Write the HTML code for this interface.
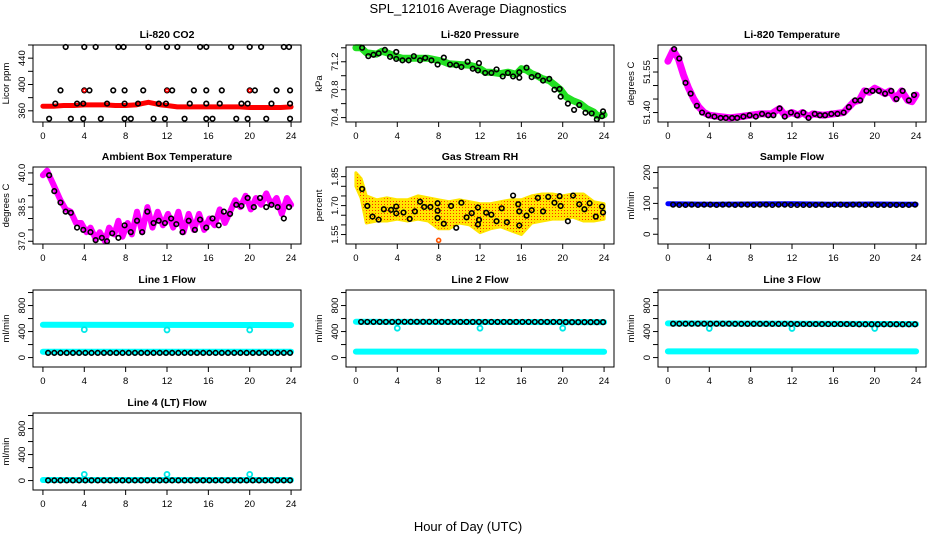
<!DOCTYPE html>
<html><head><meta charset="utf-8"><style>
html,body{margin:0;padding:0;background:#fff;}
svg{display:block;font-family:"Liberation Sans",sans-serif;}
</style></head><body>
<svg id="chart" width="936" height="540" viewBox="0 0 936 540" xmlns="http://www.w3.org/2000/svg">
<defs>
<pattern id="rhpat" width="3" height="3" patternUnits="userSpaceOnUse"><rect x="0" y="0" width="1" height="1" fill="#ff2a00"/></pattern>
</defs>
<text x="468" y="13" text-anchor="middle" font-size="13">SPL_121016  Average Diagnostics</text>
<text x="468" y="531" text-anchor="middle" font-size="13">Hour of Day (UTC)</text>
</svg>
<script>
// ---------- data ----------
const xTicks = [0,4,8,12,16,20,24];
// CO2
const co2LineH = [0,1,2,3,4,5,6,7,8,9,9.6,10.2,10.8,11.4,12,13,14,15,16,17,18,19,20,21,22,23,24];
const co2LineV = [367,367,368,368,369,369,369,368,368,369,371,373,371,369,368,366,366,366,366,366,366,366,365,365,365,365,366];
const co2TopH = [2.2,4,5.1,7.3,7.8,10.2,12,13,15.2,15.8,18.2,20,21.1,23.3,23.8];
const co2TopV = [457,457,457,457,457,457,457,457,457,457,457,457,457,457,457];
const co2MidH = [1.7,4,4.5,6.8,7.9,9.7,12,12.5,14.6,15.8,17.3,20,20.5,22.6,23.9];
const co2MidV = [391,391,391,391,391,391,391,391,391,391,391,391,391,391,391];
const co2LowH = [1.2,3.3,3.9,6.2,7.9,9.2,11.2,11.9,14.2,15.8,17.1,19.2,19.8,22.1,23.9];
const co2LowV = [371,371,371,371,371,371,371,371,371,371,371,371,371,371,371];
const co2BotH = [0.6,2.7,3.9,5.6,7.9,8.5,10.7,11.8,13.7,15.8,16.4,18.7,19.8,21.6,23.9];
const co2BotV = [348,348,348,348,348,348,348,348,348,348,348,348,348,348,348];
const co2RedH = [4,12,20];
const co2RedV = [391,391,391];
// Pressure
const prLineH = [0,0.5,1,2,2.5,3,3.5,4,4.5,6,7,8,8.5,9,10,11,11.5,12,12.5,13,14,14.7,15.5,16,16.5,17,17.5,18,18.7,19.3,19.8,20.3,21,21.7,22.3,23,23.4,24];
const prLineV = [71.40,71.40,71.33,71.31,71.35,71.33,71.30,71.27,71.25,71.25,71.25,71.22,71.20,71.17,71.16,71.15,71.13,71.10,71.05,71.05,71.03,71.05,71.02,71.10,71.08,71.03,71.00,70.96,70.93,70.86,70.80,70.70,70.64,70.60,70.53,70.48,70.42,70.44];
const prPtH = [0.6,1.2,1.7,2.2,2.8,3.3,3.9,3.9,4.5,5.1,5.6,6.2,6.7,7.3,7.9,8.5,9.1,9.7,10.2,10.8,11.3,11.8,11.9,12.5,13.1,13.6,14.2,14.7,15.2,15.8,15.8,16.5,17,17.6,18.1,18.7,19.2,19.7,19.8,20.5,21.1,21.6,22.2,22.8,23.3,23.8,23.9];
const prPtV = [71.40,71.28,71.30,71.32,71.37,71.27,71.34,71.24,71.22,71.22,71.28,71.22,71.255,71.22,71.16,71.26,71.16,71.15,71.125,71.20,71.10,71.076,71.18,71.04,71.04,71.09,70.99,71.04,70.99,70.97,71.05,71.115,70.98,71.00,70.93,70.955,70.80,70.81,70.70,70.60,70.51,70.58,70.47,70.46,70.376,70.42,70.49];
// Li-820 temperature
const ltLineH = [0,0.5,1,1.5,2,2.5,3,3.5,4,5,6,7,8,9,10,10.8,11.3,12,12.6,13,13.6,14,15,16,17,17.5,18,18.5,19,19.5,20,20.5,21,21.5,22,22.6,23.2,23.6,24];
const ltLineV = [51.59,51.63,51.60,51.54,51.49,51.45,51.42,51.40,51.39,51.385,51.38,51.385,51.39,51.395,51.395,51.415,51.39,51.40,51.39,51.40,51.385,51.395,51.39,51.395,51.40,51.42,51.44,51.445,51.48,51.475,51.49,51.48,51.47,51.48,51.45,51.48,51.445,51.44,51.465];
const ltPtH = [0.6,1.1,1.7,2.2,2.8,3.3,3.9,4.5,5.1,5.6,6.2,6.7,7.3,7.9,8.5,9.1,9.7,10.2,10.8,11.3,11.9,12.5,13.1,13.6,14.2,14.7,15.2,15.8,16.4,17,17.5,18.1,18.6,19.2,19.8,20.4,21,21.6,22.1,22.7,23.3,23.8];
const ltPtV = [51.635,51.60,51.51,51.47,51.425,51.40,51.39,51.385,51.38,51.38,51.38,51.38,51.385,51.39,51.385,51.395,51.39,51.39,51.415,51.385,51.40,51.39,51.40,51.38,51.395,51.39,51.39,51.395,51.395,51.40,51.42,51.445,51.445,51.48,51.48,51.48,51.47,51.48,51.45,51.48,51.445,51.465];
// Ambient box temperature
const abLineH = [0,0.4,0.6,1,1.3,1.7,2.2,2.7,3.2,3.7,4.2,4.6,5.1,5.5,6,6.4,6.9,7.3,7.7,8.2,8.6,9.1,9.6,10.1,10.6,11.1,11.6,12.1,12.6,13.1,13.6,14.1,14.6,15.1,15.6,16.1,16.6,17.1,17.6,18.1,18.6,19.1,19.6,20.1,20.6,21.1,21.6,22.1,22.6,23.1,23.6,24];
const abLineV = [39.9,40.1,39.9,39.5,39.2,38.8,38.4,38.3,37.8,37.8,37.4,37.6,37.1,37.4,37.0,37.6,37.3,37.9,37.2,37.8,37.3,38.3,37.4,38.5,37.6,38.3,37.7,38.2,37.6,38.3,37.4,38.2,37.5,38.2,37.5,38.0,37.7,38.4,37.8,38.3,38.8,38.5,39.0,38.4,38.9,38.6,39.1,38.6,38.9,38.2,38.9,38.6];
const abPtH = [0.6,1.1,1.7,2.2,2.7,3.3,3.9,4.6,5.1,5.7,6.2,6.7,7.3,7.9,8.5,9.1,9.6,10.1,10.7,11.2,11.8,12.4,12.9,13.5,14.1,14.7,15.2,15.8,16.4,17,17.5,18.1,18.7,19.2,19.8,20.4,21,21.6,22.1,22.7,23.3,23.8];
const abPtV = [39.9,39.2,38.7,38.3,38.25,37.6,37.5,37.4,37.05,37.15,37.0,37.35,37.15,37.7,37.4,37.9,37.4,38.3,37.8,37.9,37.8,38.0,37.75,37.4,37.9,37.5,37.95,37.6,38.0,37.7,38.3,38.2,38.6,38.55,38.9,38.5,38.9,38.5,38.6,38.5,38.0,38.5];
// Gas stream RH
const rhBandH = [0,0.5,1,2,3,4,5,6,7,8,9,10,11,12,13,14,15,16,17,18,19,20,21,22,23,24];
const rhUpper = [1.87,1.84,1.75,1.73,1.74,1.73,1.73,1.75,1.74,1.73,1.72,1.73,1.72,1.71,1.71,1.72,1.73,1.73,1.75,1.76,1.76,1.75,1.76,1.76,1.72,1.71];
const rhLower = [1.80,1.74,1.61,1.62,1.62,1.63,1.62,1.63,1.62,1.58,1.58,1.61,1.60,1.56,1.58,1.59,1.57,1.55,1.61,1.62,1.63,1.63,1.64,1.62,1.62,1.63];
const rhPtH = [0.6,1.1,1.6,2.2,2.7,3.4,3.9,3.9,4.6,5.2,5.7,6.2,6.6,7.2,7.9,7.9,7.9,8.5,9.2,9.7,10.2,10.7,11.2,11.8,11.9,11.8,12.6,13.1,13.6,14.1,14.6,15.2,15.7,15.8,15.8,16.5,17.0,17.6,18.1,18.6,19.2,19.7,19.8,20.5,21,21.6,22.1,22.6,23.2,23.8,23.9];
const rhPtV = [1.786,1.698,1.643,1.627,1.681,1.678,1.695,1.66,1.664,1.631,1.67,1.72,1.693,1.693,1.712,1.673,1.636,1.606,1.698,1.585,1.715,1.639,1.661,1.69,1.626,1.602,1.663,1.653,1.619,1.686,1.614,1.752,1.707,1.67,1.597,1.648,1.676,1.74,1.67,1.745,1.715,1.749,1.698,1.619,1.752,1.707,1.681,1.712,1.643,1.695,1.664];
const rhOutH = [8];
const rhOutV = [1.52];
// Flows (shared sample hours)
const fh = [0.5,1.1,1.7,2.3,2.9,3.5,4.1,4.7,5.3,5.9,6.5,7.1,7.7,8.3,8.9,9.5,10.1,10.7,11.3,11.9,12.5,13.1,13.7,14.3,14.9,15.5,16.1,16.7,17.3,17.9,18.5,19.1,19.7,20.3,20.9,21.5,22.1,22.7,23.3,23.9];
const sfBlueH = [0,4,8,12,16,20,24];
const sfBlueV = [99,97,98,99,97,98,97];
const sfBlack = [96,95,95,96,95,96,96,95,96,96,95,96,96,95,96,96,95,96,96,95,95,95,95,95,96,95,96,96,95,96,96,95,96,95,95,95,95,95,95,96];
const dipH = [4,12,20];
const l1Cyan = {h:[0,24], v:[505,500]};
const l1CyanLow = {h:[0,24], v:[88,88]};
const l1Dip = [430,425,425];
const l1Black = [72,72,72,72,72,72,72,72,72,72,72,72,72,72,72,72,72,72,72,72,72,72,72,72,72,72,72,72,72,72,72,72,72,72,72,72,72,72,72,72];
const l2Cyan = {h:[0,24], v:[550,545]};
const l2CyanLow = {h:[0,24], v:[92,90]};
const l2Dip = [452,452,452];
const l2Black = [548,548,548,548,548,548,550,550,550,550,550,550,550,548,548,548,548,548,548,548,548,548,548,548,548,548,548,548,548,548,548,548,548,545,545,545,545,545,545,545];
const l3Cyan = {h:[0,24], v:[525,515]};
const l3CyanLow = {h:[0,24], v:[95,95]};
const l3Dip = [448,448,448];
const l3Black = [520,520,520,520,520,520,520,520,520,520,518,518,518,518,518,518,518,518,518,518,515,515,515,515,515,515,515,515,515,515,512,512,512,512,512,512,512,512,512,512];
const l4CyanLow = {h:[0,24], v:[8,8]};
const l4Dip = [95,95,95];
const l4Black = [3,3,3,3,3,3,3,3,3,3,3,3,3,3,3,3,3,3,3,3,3,3,3,3,3,3,3,3,3,3,3,3,3,3,3,3,3,3,3,3];

// ---------- drawing ----------
const svg = document.getElementById('chart');
const NS = 'http://www.w3.org/2000/svg';
function mk(tag, attrs, parent){const e=document.createElementNS(NS,tag);for(const k in attrs)e.setAttribute(k,attrs[k]);(parent||svg).appendChild(e);return e;}

function panel(c){
  const g = mk('g',{});
  
  
  const sx = h => c.left + c.w*(0.04 + h/24*1.0)/1.08;
  const sy = v => c.top + c.h*(c.ymax - v)/(c.ymax - c.ymin);
  const plot = mk('g',{},g);
  
  
  const box = mk('rect',{x:c.left,y:c.top,width:c.w,height:c.h,fill:'none',stroke:'#000','stroke-width':1},g);
  
  
  const t = mk('text',{x:c.left+c.w/2,y:c.top-7,'text-anchor':'middle','font-size':10.5,'font-weight':'bold'},g);
  t.textContent = c.title;
  
  
  const xa = mk('g',{},g);
  
  
  mk('line',{x1:sx(0),x2:sx(24),y1:c.top+c.h,y2:c.top+c.h,stroke:'#000'},xa);
  xTicks.forEach(v=>{
    mk('line',{x1:sx(v),x2:sx(v),y1:c.top+c.h,y2:c.top+c.h+5,stroke:'#000'},xa);
    const tl = mk('text',{x:sx(v),y:c.top+c.h+17,'text-anchor':'middle','font-size':9.5},xa);
    tl.textContent = v;
    
    
  });
  const ya = mk('g',{},g);
  
  
  c.yticks.forEach(v=>{
    mk('line',{x1:c.left-5,x2:c.left,y1:sy(v),y2:sy(v),stroke:'#000'},ya);
  });
  c.ylabels.forEach(v=>{
    const yy = sy(v), xx = c.left-8;
    const tl = mk('text',{x:xx,y:yy,'text-anchor':'middle','font-size':9.5,transform:`rotate(-90 ${xx} ${yy})`},ya);
    tl.textContent = c.fmt ? c.fmt(v) : v;
    
    
  });
  const lx = c.left-24, ly = c.top+c.h/2;
  const yl = mk('text',{x:lx,y:ly,'text-anchor':'middle','font-size':9.5,transform:`rotate(-90 ${lx} ${ly})`},g);
  yl.textContent = c.ylab;
  
  
  return {sx, sy, plot};
}
function line(p, hs, vs, color, w, name){
  const pts = hs.map((h,i)=>p.sx(h).toFixed(1)+','+p.sy(vs[i]).toFixed(1)).join(' ');
  const e = mk('polyline',{points:pts,fill:'none',stroke:color,'stroke-width':w,'stroke-linejoin':'round','stroke-linecap':'round'},p.plot);
  
  
}
function pts(p, hs, vs, color, r, name, sw){
  hs.forEach((h,i)=>{
    const e = mk('circle',{cx:p.sx(h),cy:p.sy(vs[i]),r:r,fill:'none',stroke:color,'stroke-width':sw||1.6},p.plot);
    
    
  });
}

const W = 268, H = 77;
const C1 = 33, C2 = 346, C3 = 658;
const R1 = 45, R2 = 167, R3 = 290, R4 = 413;
const fix2 = v=>v.toFixed(2), fix1 = v=>v.toFixed(1);

// Panel 1: CO2
let p = panel({name:'co2-panel',title:'Li-820 CO2',ylab:'Licor ppm',left:C1,top:R1,w:W,h:H,ymin:343,ymax:460,yticks:[360,380,400,420,440,460],ylabels:[360,400,440]});
line(p, co2LineH, co2LineV, '#ff0000', 5, 'co2-red-series');
pts(p, co2TopH, co2TopV, '#000', 2.3, 'co2-point');
pts(p, co2MidH, co2MidV, '#000', 2.3, 'co2-point');
pts(p, co2LowH, co2LowV, '#000', 2.3, 'co2-point');
pts(p, co2BotH, co2BotV, '#000', 2.3, 'co2-point');
pts(p, co2RedH, co2RedV, '#ff0000', 1.5, 'co2-red-point', 1.4);

// Panel 2: Pressure
p = panel({name:'pressure-panel',title:'Li-820 Pressure',ylab:'kPa',left:C2,top:R1,w:W,h:H,ymin:70.337,ymax:71.44,yticks:[70.4,70.6,70.8,71.0,71.2,71.4],ylabels:[70.4,70.8,71.2],fmt:fix1});
line(p, prLineH, prLineV, '#22e022', 7, 'pressure-green-series');
pts(p, prPtH, prPtV, '#000', 2.3, 'pressure-point');

// Panel 3: Li-820 temp
p = panel({name:'licor-temp-panel',title:'Li-820 Temperature',ylab:'degrees C',left:C3,top:R1,w:W,h:H,ymin:51.365,ymax:51.65,yticks:[51.40,51.45,51.50,51.55,51.60],ylabels:[51.40,51.55],fmt:fix2});
line(p, ltLineH, ltLineV, '#ff00ff', 7, 'licor-temp-magenta-series');
pts(p, ltPtH, ltPtV, '#000', 2.3, 'licor-temp-point');

// Panel 4: Ambient box temp
p = panel({name:'ambient-temp-panel',title:'Ambient Box Temperature',ylab:'degrees C',left:C1,top:R2,w:W,h:H,ymin:36.88,ymax:40.26,yticks:[37.0,37.5,38.0,38.5,39.0,39.5,40.0],ylabels:[37.0,38.5,40.0],fmt:fix1});
line(p, abLineH, abLineV, '#ff00ff', 6, 'ambient-temp-magenta-series');
pts(p, abPtH, abPtV, '#000', 2.3, 'ambient-temp-point');

// Panel 5: Gas stream RH
p = panel({name:'rh-panel',title:'Gas Stream RH',ylab:'percent',left:C2,top:R2,w:W,h:H,ymin:1.501,ymax:1.90,yticks:[1.55,1.60,1.65,1.70,1.75,1.80,1.85],ylabels:[1.55,1.70,1.85],fmt:fix2});
{
  const up = rhBandH.map((h,i)=>p.sx(h).toFixed(1)+','+p.sy(rhUpper[i]).toFixed(1));
  const lo = rhBandH.map((h,i)=>p.sx(h).toFixed(1)+','+p.sy(rhLower[i]).toFixed(1)).reverse();
  const poly = up.concat(lo).join(' ');
  const b1 = mk('polygon',{points:poly,fill:'#ffe600',stroke:'#ffe600','stroke-width':3,'stroke-linejoin':'round'},p.plot);
  
  
  const b2 = mk('polygon',{points:poly,fill:'url(#rhpat)',stroke:'none'},p.plot);
  
  
}
pts(p, rhPtH, rhPtV, '#000', 2.3, 'rh-point');
pts(p, rhOutH, rhOutV, '#ff5500', 2, 'rh-outlier');

// Panel 6: Sample flow
p = panel({name:'sample-flow-panel',title:'Sample Flow',ylab:'ml/min',left:C3,top:R2,w:W,h:H,ymin:-31.6,ymax:218,yticks:[0,50,100,150,200],ylabels:[0,100,200]});
line(p, sfBlueH, sfBlueV, '#0000ff', 5, 'sample-flow-blue-series');
pts(p, fh, sfBlack, '#000', 2.3, 'sample-flow-point');

// Flow panels
const flowY = {ymin:-145,ymax:1039,yticks:[0,200,400,600,800,1000],ylabels:[0,400,800]};
function flowPanel(name,title,left,top,cyanHi,cyanLo,dip,black){
  const q = panel(Object.assign({name,title,ylab:'ml/min',left,top,w:W,h:H},flowY));
  if(cyanHi) line(q, cyanHi.h, cyanHi.v, '#00ffff', 6, name+'-cyan-series');
  line(q, cyanLo.h, cyanLo.v, '#00ffff', 6, name+'-cyan-low-series');
  pts(q, dipH, dip, '#00e8e8', 2.5, name+'-cyan-point', 1.8);
  pts(q, fh, black, '#000', 2.3, name+'-black-point');
}
flowPanel('line1-flow-panel','Line 1 Flow',C1,R3,l1Cyan,l1CyanLow,l1Dip,l1Black);
flowPanel('line2-flow-panel','Line 2 Flow',C2,R3,l2Cyan,l2CyanLow,l2Dip,l2Black);
flowPanel('line3-flow-panel','Line 3 Flow',C3,R3,l3Cyan,l3CyanLow,l3Dip,l3Black);
flowPanel('line4-flow-panel','Line 4 (LT) Flow',C1,R4,null,l4CyanLow,l4Dip,l4Black);
</script>
</body></html>
